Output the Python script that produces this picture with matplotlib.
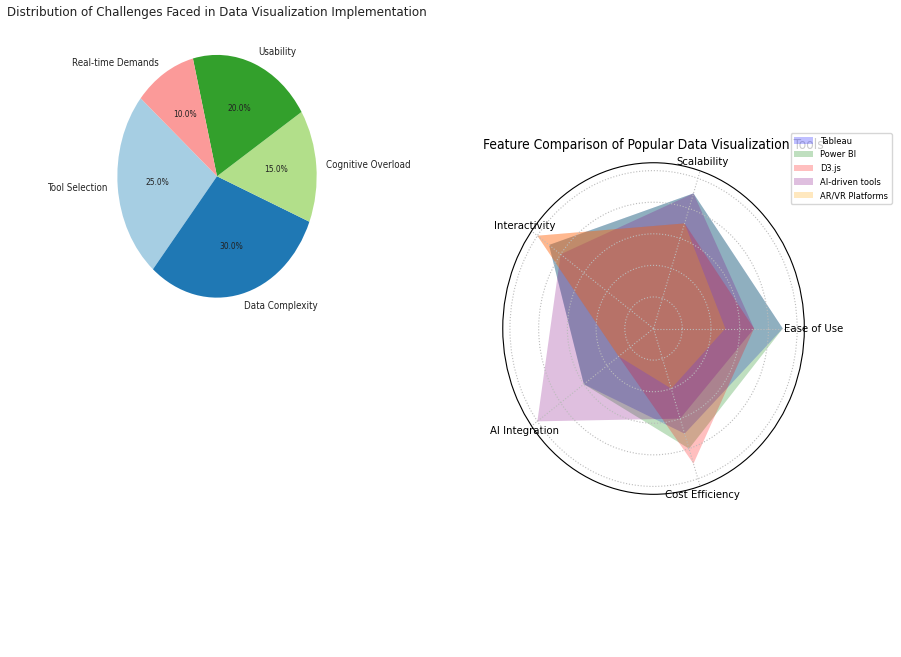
import numpy as np
import matplotlib
matplotlib.use("Agg")
import matplotlib.pyplot as plt

# ---- Pie data ----
challenge_labels = ['Tool Selection', 'Data Complexity', 'Cognitive Overload', 'Usability', 'Real-time Demands']
challenge_values = [25, 30, 15, 20, 10]
pie_colors = ['#a6cee3', '#1f78b4', '#b2df8a', '#33a02c', '#fb9a99']

# ---- Radar data ----
radar_categories = ['Ease of Use', 'Scalability', 'Interactivity', 'AI Integration', 'Cost Efficiency']
tool_names = ['Tableau', 'Power BI', 'D3.js', 'AI-driven tools', 'AR/VR Platforms']
tableau = [9, 9, 9, 6, 7]
power_bi = [9, 9, 9, 6, 8]
d3js = [7, 7, 10, 3, 9]
ai_tools = [7, 9, 8, 10, 6]
arvr = [5, 7, 10, 3, 4]
tool_colors = ['blue', 'green', 'red', 'purple', 'orange']

plt.rcParams['font.family'] = ['DejaVu Sans']
plt.rcParams['font.stretch'] = 'condensed'

fig = plt.figure(figsize=(9.01, 6.57), dpi=100)

# ---- Pie ----
ax1 = fig.add_axes([0.1026, 0.5008, 0.2765, 0.4618])
wedges, texts, autotexts = ax1.pie(challenge_values, labels=challenge_labels, colors=pie_colors,
                                   autopct='%1.1f%%', startangle=140,
                                   textprops={'fontsize': 7.0, 'color': '#222222'})
for t in autotexts:
    t.set_fontsize(6.0)
ax1.set_aspect('auto')
ax1.set_title('Distribution of Challenges Faced in Data Visualization Implementation',
              fontsize=9.5, color='#222222')

# ---- Radar ----
ax2 = fig.add_axes([0.558, 0.2476, 0.3347, 0.5047], projection='polar')
angles = np.linspace(0, 2 * np.pi, len(radar_categories), endpoint=False)
closed_angles = np.concatenate([angles, angles[:1]])
for name, vals, col in zip(tool_names, [tableau, power_bi, d3js, ai_tools, arvr], tool_colors):
    v = list(vals) + [vals[0]]
    ax2.fill(closed_angles, v, facecolor=col, edgecolor='none', linewidth=0, alpha=0.25, label=name)
ax2.set_ylim(0, 10.5)
ax2.set_xticks(angles)
ax2.set_xticklabels(radar_categories, fontsize=8.1)
ax2.tick_params(axis='x', pad=-4)
ax2.set_yticks([2, 4, 6, 8, 10])
ax2.set_yticklabels([])
ax2.grid(True, linestyle=':', color='#bbbbbb', linewidth=0.8)
ax2.set_aspect('auto')
ax2.set_title('Feature Comparison of Popular Data Visualization Tools', fontsize=9.9)
ax2.legend(loc='upper right', bbox_to_anchor=(892 / 901, 1 - 133 / 657),
           bbox_transform=fig.transFigure, borderaxespad=0, fontsize=6.7)

fig.savefig('out.png', dpi=100)
